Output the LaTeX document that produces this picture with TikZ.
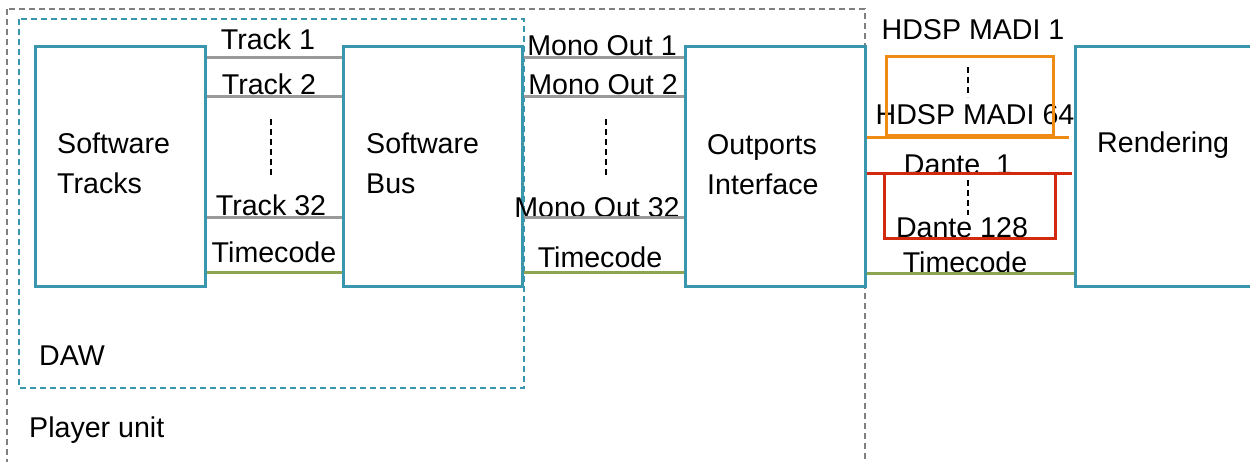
\documentclass[tikz,border=0pt]{standalone}
\usepackage{fontspec}
\setmainfont{Liberation Sans}
\definecolor{boxteal}{RGB}{58,150,173}
\definecolor{sgray}{RGB}{154,154,154}
\definecolor{tcgreen}{RGB}{141,165,80}
\definecolor{madior}{RGB}{239,138,20}
\definecolor{dantered}{RGB}{210,41,15}
\definecolor{unitgray}{RGB}{128,128,128}
\begin{document}
\begin{tikzpicture}[x=1pt,y=-1pt,
  box/.style={draw=boxteal, line width=3pt, inner sep=0pt, minimum height=240pt},
  lbl/.style={font=\fontsize{28.6}{40}\selectfont, inner sep=0pt},
  sig/.style={draw=sgray, line width=3pt},
  tc/.style={draw=tcgreen, line width=3pt},
  vdots/.style={draw=black, line width=1.5pt, dash pattern=on 6pt off 4pt},
  grp/.style={line width=3pt, inner sep=0pt}]
\useasboundingbox (0,0) rectangle (1250,461);
\clip (0,0) rectangle (1250,461);
% groups
\draw[unitgray, line width=1.5pt, dash pattern=on 6pt off 4pt] (7,9) rectangle (865,480);
\draw[boxteal, line width=1.5pt, dash pattern=on 6pt off 4pt] (19,19) rectangle (524,388);
% boxes
\node[box, minimum width=170pt] (st) at (120,166) {};
\node[box, minimum width=179pt] (sb) at (432.5,166) {};
\node[box, minimum width=180pt] (oi) at (775,166) {};
\node[box, minimum width=190pt] (rd) at (1170,166) {};
% box texts
\node[lbl, anchor=base west, align=left] (tst) at (57,193) {Software\\Tracks};
\node[lbl, anchor=base west, align=left] (tsb) at (366,193) {Software\\Bus};
\node[lbl, anchor=base west, align=left] (toi) at (707,194) {Outports\\Interface};
\node[lbl, anchor=base west] (trd) at (1097,152) {Rendering};
\node[lbl, anchor=base west] (tdaw) at (39,365.5) {DAW};
\node[lbl, anchor=base west] (tpu) at (29,437) {Player unit};
% signal labels
\node[lbl, anchor=base] (l1) at (268,49) {Track 1};
\node[lbl, anchor=base] (l2) at (269,94.5) {Track 2};
\node[lbl, anchor=base] (l3) at (271,215) {Track 32};
\node[lbl, anchor=base] (l4) at (274,262) {Timecode};
\node[lbl, anchor=base] (m1) at (602,55.5) {Mono Out 1};
\node[lbl, anchor=base] (m2) at (603,94) {Mono Out 2};
\node[lbl, anchor=base] (m3) at (597,217) {Mono Out 32};
\node[lbl, anchor=base] (m4) at (600,267) {Timecode};
\node[lbl, anchor=base] (h1) at (973,39) {HDSP MADI 1};
\node[lbl, anchor=base] (h2) at (975,124) {HDSP MADI 64};
\node[lbl, anchor=base] (d1) at (958,174) {Dante~~1};
\node[lbl, anchor=base] (d2) at (962,237) {Dante 128};
\node[lbl, anchor=base] (r4) at (965,272) {Timecode};
% channel groups
\node[grp, draw=madior, minimum width=167pt, minimum height=79pt] (madi) at (969.5,95.5) {};
\node[grp, draw=dantered, minimum width=171pt, minimum height=65pt] (dante) at (969.5,205.5) {};
% level coordinates
\coordinate (y1) at (0,57);
\coordinate (y2) at (0,96);
\coordinate (y3) at (0,217);
\coordinate (y4) at (0,272);
\coordinate (yo) at (0,137);
\coordinate (yr) at (0,173);
\coordinate (yt) at (0,273);
% connectors
\draw[sig] (st.east |- y1) -- (sb.west |- y1);
\draw[sig] (st.east |- y2) -- (sb.west |- y2);
\draw[sig] (st.east |- y3) -- (sb.west |- y3);
\draw[tc] (st.east |- y4) -- (sb.west |- y4);
\draw[sig] (sb.east |- y1) -- (oi.west |- y1);
\draw[sig] (sb.east |- y2) -- (oi.west |- y2);
\draw[sig] (sb.east |- y3) -- (oi.west |- y3);
\draw[tc] (sb.east |- y4) -- (oi.west |- y4);
\draw[madior, line width=3pt] (oi.east |- yo) -- ([xshift=-5pt]rd.west |- yo);
\draw[dantered, line width=3pt] (oi.east |- yr) -- ([xshift=-2pt]rd.west |- yr);
\draw[tc] (oi.east |- yt) -- (rd.west |- yt);
% ellipsis dashes
\coordinate (e1a) at (271,119); \coordinate (e1b) at (271,178);
\coordinate (e2a) at (606,119); \coordinate (e2b) at (606,178);
\coordinate (e3a) at (968,67);  \coordinate (e3b) at (968,97);
\coordinate (e4a) at (968,180); \coordinate (e4b) at (968,215);
\draw[vdots] (e1a) -- (e1b);
\draw[vdots] (e2a) -- (e2b);
\draw[vdots] (e3a) -- (e3b);
\draw[vdots] (e4a) -- (e4b);
\end{tikzpicture}
\end{document}
